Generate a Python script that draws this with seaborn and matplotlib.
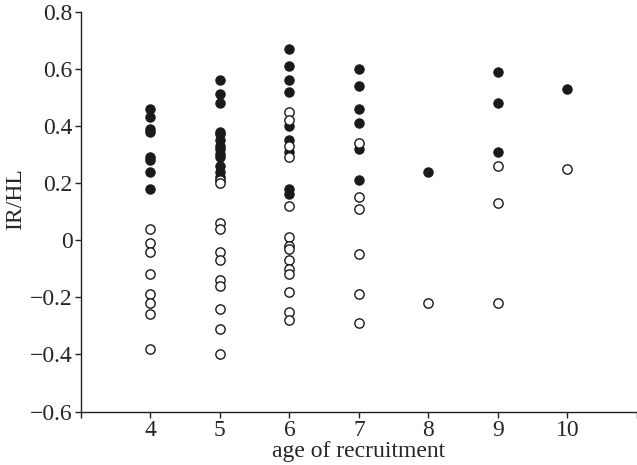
import pandas as pd
import numpy as np
import matplotlib
matplotlib.use("Agg")
import matplotlib.pyplot as plt
import seaborn as sns

# IR/HL values per age of recruitment
filled = {
    4: [0.46, 0.43, 0.39, 0.38, 0.29, 0.28, 0.24, 0.18],
    5: [0.56, 0.51, 0.48, 0.38, 0.37, 0.35, 0.33, 0.32, 0.30, 0.29, 0.26, 0.24, 0.22],
    6: [0.67, 0.61, 0.56, 0.52, 0.40, 0.35, 0.31, 0.18, 0.16],
    7: [0.60, 0.54, 0.46, 0.41, 0.32, 0.21],
    8: [0.24],
    9: [0.59, 0.48, 0.31],
    10: [0.53],
}
open_ = {
    4: [0.04, -0.01, -0.04, -0.12, -0.19, -0.22, -0.26, -0.38],
    5: [0.21, 0.20, 0.06, 0.04, -0.04, -0.07, -0.14, -0.16, -0.24, -0.31, -0.40],
    6: [0.45, 0.42, 0.33, 0.29, 0.12, 0.01, -0.02, -0.03, -0.07, -0.10, -0.12, -0.18, -0.25, -0.28],
    7: [0.34, 0.15, 0.11, -0.05, -0.19, -0.29],
    8: [-0.22],
    9: [0.26, 0.13, -0.22],
    10: [0.25],
}

def to_frame(d):
    rows = [(age, v) for age, vals in d.items() for v in vals]
    return pd.DataFrame(rows, columns=["age", "irhl"])

df_filled = to_frame(filled)
df_open = to_frame(open_)

sns.set_style("ticks")
plt.rcParams["font.family"] = ["Liberation Serif", "DejaVu Serif"]

fig = plt.figure(figsize=(6.37, 4.65), dpi=100)
ax = fig.add_axes([0.127, 0.115, 0.873, 0.86])

sns.scatterplot(data=df_filled, x="age", y="irhl", ax=ax, color="#1a1a1a",
                edgecolor="#1a1a1a", s=45, linewidth=0.8, zorder=3)
sns.scatterplot(data=df_open, x="age", y="irhl", ax=ax, color="white",
                edgecolor="#1a1a1a", s=45, linewidth=1.0, zorder=4)

ax.set_xlim(3, 11)
ax.set_ylim(-0.6, 0.8)
ax.set_xticks(range(3, 12))
ax.set_xticklabels([""] + [str(i) for i in range(4, 11)] + [""])
yt = np.arange(-0.6, 0.81, 0.2)
ax.set_yticks(yt)
ax.set_yticklabels(["0" if abs(v) < 1e-9 else f"{v:.1f}".replace("-", "\u2212") for v in yt])
ax.tick_params(labelsize=17, length=4, width=1, color="#222222", pad=2)
ax.set_xlabel("age of recruitment", fontsize=17, labelpad=0)
ax.set_ylabel("IR/HL", fontsize=17)
ax.yaxis.set_label_coords(-0.098, 0.53)
for side in ["top", "right"]:
    ax.spines[side].set_visible(False)
for side in ["left", "bottom"]:
    ax.spines[side].set_linewidth(1.0)
    ax.spines[side].set_color("#222222")

fig.savefig("out.png", dpi=100)
